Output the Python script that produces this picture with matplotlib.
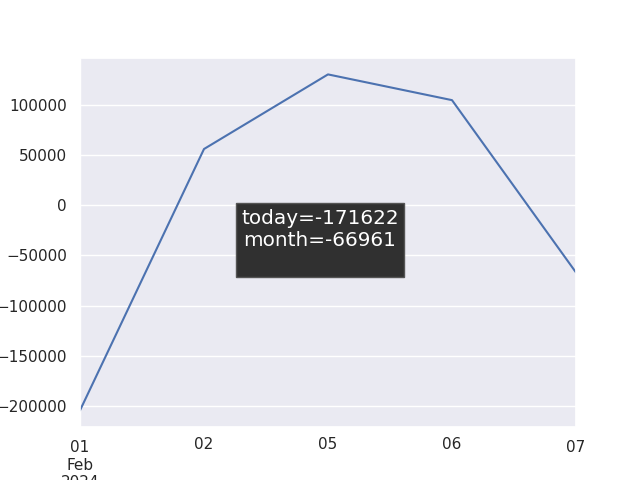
import matplotlib
matplotlib.use("Agg")
import matplotlib.pyplot as plt
import seaborn as sns
import pandas as pd

sns.set_theme()

# daily totals (business days, Feb 2024)
dates = ["2024-02-01", "2024-02-02", "2024-02-05", "2024-02-06", "2024-02-07"]
values = [-204300, 56000, 130300, 104661, -66961]

today_val = -171622
month_val = -66961

s = pd.Series(values, index=pd.DatetimeIndex(dates, freq="B"))

fig, ax = plt.subplots(figsize=(6.4, 4.8), dpi=100)
s.plot(ax=ax)

plt.figtext(0.5, 0.5, f"today={today_val}\nmonth={month_val}\n",
            ha="center", va="center", fontsize=14.4, color="white",
            bbox=dict(facecolor="#303030", edgecolor="#555555", alpha=1.0))

fig.savefig("out.png", dpi=100)
